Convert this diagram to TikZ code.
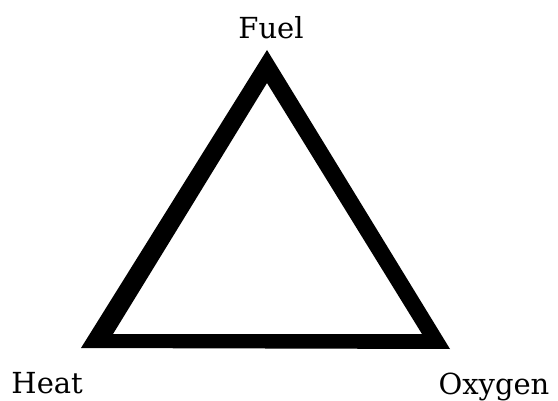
\documentclass[tikz,border=0pt]{standalone}
\usepackage{fontspec}
\setmainfont{DejaVu Serif}
\tikzset{
  lbl/.style={inner sep=0pt, outer sep=0pt, font=\fontsize{29}{31}\selectfont, text=black},
  tri/.style={fill=black, even odd rule, draw=none}
}
\begin{document}
\begin{tikzpicture}[x=1pt,y=1pt]
\useasboundingbox (0,0) rectangle (558,400);
% outer corners
\coordinate (A) at (267,350);
\coordinate (B) at (81,52);
\coordinate (C) at (450,51);
% inner corners
\coordinate (a) at (267,317);
\coordinate (b) at (113,66);
\coordinate (c) at (422,66);
\path[tri] (A) -- (B) -- (C) -- cycle (a) -- (b) -- (c) -- cycle;
\node[lbl, anchor=base] (fuel) at (271,361) {Fuel};
\node[lbl, anchor=base west] (heat) at (11.5,7) {Heat};
\node[lbl, anchor=base west] (oxy) at (438.5,6) {Oxygen};
\end{tikzpicture}
\end{document}
